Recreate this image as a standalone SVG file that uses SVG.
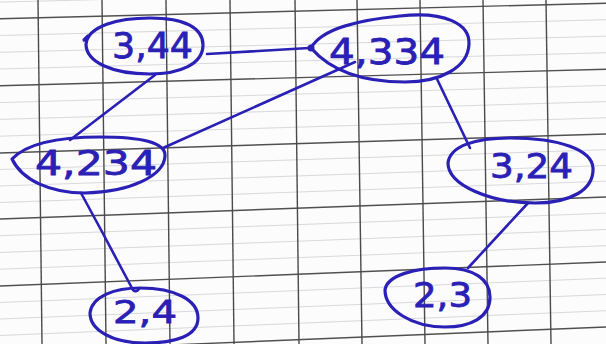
<svg xmlns="http://www.w3.org/2000/svg" width="606" height="344" viewBox="0 0 606 344">
<defs>
<style>
.minor{stroke:#d8d8de;stroke-width:1;fill:none}
.major{stroke:#505050;stroke-width:1.4;fill:none}
.vert{stroke:#4a4a4a;stroke-width:1.4;fill:none}
.node{fill:none;stroke:#2a20b5;stroke-width:3.2;stroke-linecap:round;stroke-linejoin:round}
.edge{fill:none;stroke:#2a20b5;stroke-width:2.6;stroke-linecap:round;stroke-linejoin:round}
.lbl{font-family:"DejaVu Sans","Liberation Sans",sans-serif;fill:#2a20b5;stroke:#2a20b5;stroke-width:0.8;text-anchor:start}
</style>
</defs>
<rect width="606" height="344" fill="#fcfcfc"/>
<g id="grid">
<line class="minor" x1="0" y1="2.1" x2="606" y2="-13.1"/>
<line class="minor" x1="0" y1="35.5" x2="606" y2="19.7"/>
<line class="minor" x1="0" y1="52.3" x2="606" y2="36.2"/>
<line class="minor" x1="0" y1="69" x2="606" y2="52.7"/>
<line class="minor" x1="0" y1="102.6" x2="606" y2="85.4"/>
<line class="minor" x1="0" y1="119.4" x2="606" y2="101.6"/>
<line class="minor" x1="0" y1="136.2" x2="606" y2="117.8"/>
<line class="minor" x1="0" y1="169.5" x2="606" y2="149.7"/>
<line class="minor" x1="0" y1="186" x2="606" y2="165.5"/>
<line class="minor" x1="0" y1="202.5" x2="606" y2="181.2"/>
<line class="minor" x1="0" y1="235.7" x2="606" y2="213.2"/>
<line class="minor" x1="0" y1="252.5" x2="606" y2="229.5"/>
<line class="minor" x1="0" y1="269.2" x2="606" y2="245.7"/>
<line class="minor" x1="0" y1="302.5" x2="606" y2="278.2"/>
<line class="minor" x1="0" y1="319" x2="606" y2="294.5"/>
<line class="minor" x1="0" y1="335.5" x2="606" y2="310.7"/>
<line class="major" x1="0" y1="18.8" x2="606" y2="3.2"/>
<line class="major" x1="0" y1="85.8" x2="606" y2="69.2"/>
<line class="major" x1="0" y1="153" x2="606" y2="134"/>
<line class="major" x1="0" y1="219" x2="606" y2="197"/>
<line class="major" x1="0" y1="286" x2="606" y2="262"/>
<line class="major" x1="0" y1="352" x2="606" y2="327"/>
<line class="vert" x1="38" y1="0" x2="42" y2="344"/>
<line class="vert" x1="102" y1="0" x2="106" y2="344"/>
<line class="vert" x1="166" y1="0" x2="170" y2="344"/>
<line class="vert" x1="230" y1="0" x2="234" y2="344"/>
<line class="vert" x1="295" y1="0" x2="299" y2="344"/>
<line class="vert" x1="357" y1="0" x2="362" y2="344"/>
<line class="vert" x1="420" y1="0" x2="425" y2="344"/>
<line class="vert" x1="483" y1="0" x2="488" y2="344"/>
<line class="vert" x1="546" y1="0" x2="551" y2="344"/>
</g>
<g id="connectors">
<path class="edge" d="M207,54 L309,48"/>
<path class="edge" d="M155,75 L70,140"/>
<path class="edge" d="M163,148 L355,62"/>
<path class="edge" d="M437,79 L470,148"/>
<path class="edge" d="M81,193 L100,228 L133,290 Q136,293 139,289"/>
<path class="edge" d="M528,203 L468,268"/>
</g>
<g id="n344">
<path class="node" d="M86,44 C88,26 118,18 150,18 C185,18 203,28 203,45 C203,64 180,74 150,74 C112,74 86,62 86,44 Z M84,40 L88,36"/>
<text class="lbl" x="112" y="58" font-size="36" textLength="81" lengthAdjust="spacingAndGlyphs">3,44</text>
</g>
<g id="n4334">
<path class="node" d="M311,48 C322,28 360,20 400,16 C445,11 470,24 469,44 C468,68 440,82 405,82 C362,82 330,70 311,48 Z"/>
<circle cx="311" cy="48" r="3.5" fill="#2a20b5"/>
<text class="lbl" x="329" y="64" font-size="36" textLength="116" lengthAdjust="spacingAndGlyphs">4,334</text>
</g>
<g id="n4234">
<path class="node" d="M12,159 C30,140 70,137 100,137 C140,137 166,142 165,156 C164,176 130,192 85,193 C50,193 22,180 12,159 Z"/>
<text class="lbl" x="35" y="175" font-size="34" textLength="122" lengthAdjust="spacingAndGlyphs">4,234</text>
</g>
<g id="n324">
<path class="node" d="M448,163 C450,146 475,138 510,138 C560,138 592,150 593,168 C594,190 570,203 535,203 C490,203 448,185 448,163 Z"/>
<text class="lbl" x="490" y="178" font-size="33" textLength="83" lengthAdjust="spacingAndGlyphs">3,24</text>
</g>
<g id="n24">
<path class="node" d="M90,313 C92,296 115,288 140,288 C175,288 198,300 198,318 C198,336 175,343 145,343 C112,343 90,330 90,313 Z"/>
<text class="lbl" x="113" y="323" font-size="32" textLength="64" lengthAdjust="spacingAndGlyphs">2,4</text>
</g>
<g id="n23">
<path class="node" d="M385,290 C387,275 415,268 445,268 C475,268 490,280 490,297 C490,318 470,327 445,327 C412,327 385,310 385,290 Z"/>
<text class="lbl" x="413" y="307" font-size="34" textLength="59" lengthAdjust="spacingAndGlyphs">2,3</text>
</g>
</svg>
